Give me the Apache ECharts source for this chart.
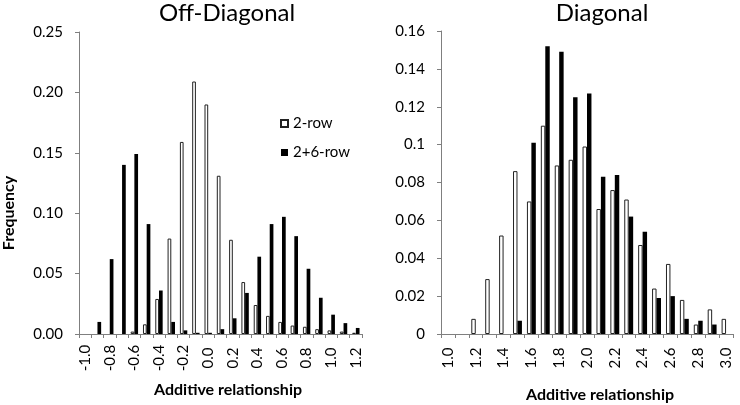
<!DOCTYPE html>
<html><head><meta charset="utf-8">
<script src="https://cdn.jsdelivr.net/npm/echarts@6.0.0/dist/echarts.min.js"></script>
<style>html,body{margin:0;padding:0;background:#fff}#c{width:740px;height:405px}</style>
</head><body><div id="c"></div>
<script>
// ---- Data ----
const offCats = ['-1.0','-0.9','-0.8','-0.7','-0.6','-0.5','-0.4','-0.3','-0.2','-0.1','0.0','0.1','0.2','0.3','0.4','0.5','0.6','0.7','0.8','0.9','1.0','1.1','1.2'];
const off2row  = [0,0,0,0,0.002,0.008,0.029,0.079,0.159,0.209,0.190,0.131,0.078,0.043,0.024,0.015,0.010,0.007,0.006,0.004,0.003,0.002,0.001];
const off26row = [0,0.010,0.062,0.140,0.149,0.091,0.036,0.010,0.003,0.001,0.001,0.004,0.013,0.034,0.064,0.091,0.097,0.081,0.054,0.030,0.016,0.009,0.005];

const diagCats = ['1.0','1.1','1.2','1.3','1.4','1.5','1.6','1.7','1.8','1.9','2.0','2.1','2.2','2.3','2.4','2.5','2.6','2.7','2.8','2.9','3.0'];
const diag2row  = [0,0,0.008,0.029,0.052,0.086,0.070,0.110,0.089,0.092,0.099,0.066,0.076,0.071,0.047,0.024,0.037,0.018,0.005,0.013,0.008];
const diag26row = [0,0,0,0,0,0.007,0.101,0.152,0.149,0.125,0.127,0.083,0.084,0.062,0.054,0.019,0.020,0.008,0.007,0.005,0];

const seriesNames = ['2-row','2+6-row'];
const titles = ['Off-Diagonal','Diagonal'];
const xTitle = 'Additive relationship';
const yTitle = 'Frequency';

// ---- Chart ----
const FONT = 'Lato, "Open Sans", sans-serif';
const chart = echarts.init(document.getElementById('c'), null, {renderer:'canvas'});
const axisLine = {show:true, lineStyle:{color:'#7f7f7f', width:1}};
function xAxisCfg(idx, cats){
  return {
    type:'category', gridIndex:idx, data:cats, boundaryGap:true,
    axisLine:axisLine,
    axisTick:{show:true, interval:0, length:4, lineStyle:{color:'#7f7f7f'}},
    axisLabel:{interval:1, rotate:90, align:'center', verticalAlign:'middle', margin:24,
      fontSize:15, color:'#000', fontFamily:FONT},
    splitLine:{show:false}
  };
}
function yAxisCfg(idx, max, interval, fmt){
  return {
    type:'value', gridIndex:idx, min:0, max:max, interval:interval,
    axisLine:axisLine,
    axisTick:{show:true, length:4, lineStyle:{color:'#7f7f7f'}},
    axisLabel:{fontSize:15, color:'#000', margin:16, fontFamily:FONT, formatter:fmt},
    splitLine:{show:false}
  };
}
const whiteStyle = {color:'#ffffff', borderColor:'#222', borderWidth:1};
const blackStyle = {color:'#000000'};
function bar(name, data, idx, style, gap){
  return {type:'bar', name:name, data:data.map(v => v === 0 ? null : v), xAxisIndex:idx, yAxisIndex:idx,
    itemStyle:style, barGap:'0%', barCategoryGap:gap, emphasis:{disabled:true}};
}
const option = {
  animation:false,
  textStyle:{fontFamily:FONT},
  legend:{orient:'vertical', left:275, top:111, itemWidth:7, itemHeight:7, itemGap:14,
    icon:'rect', data:seriesNames, textStyle:{fontSize:15, color:'#000', fontFamily:FONT}},
  grid:[
    {left:79, top:32, width:283, height:302},
    {left:441, top:31, width:292, height:303}
  ],
  xAxis:[xAxisCfg(0, offCats), xAxisCfg(1, diagCats)],
  yAxis:[
    yAxisCfg(0, 0.25, 0.05, v => v.toFixed(2)),
    yAxisCfg(1, 0.16, 0.02, v => String(+v.toFixed(2)))
  ],
  series:[
    bar(seriesNames[0], off2row, 0, whiteStyle, '40%'),
    bar(seriesNames[1], off26row, 0, blackStyle, '40%'),
    bar(seriesNames[0], diag2row, 1, whiteStyle, '36%'),
    bar(seriesNames[1], diag26row, 1, blackStyle, '36%')
  ],
  graphic:[
    {type:'text', x:227, y:13, style:{text:titles[0], font:'24px '+FONT, fill:'#000', align:'center', verticalAlign:'middle'}},
    {type:'text', x:602, y:13, style:{text:titles[1], font:'24px '+FONT, fill:'#000', align:'center', verticalAlign:'middle'}},
    {type:'text', x:228, y:390, style:{text:xTitle, font:'bold 16px '+FONT, fill:'#000', align:'center', verticalAlign:'middle'}},
    {type:'text', x:600, y:395, style:{text:xTitle, font:'bold 16px '+FONT, fill:'#000', align:'center', verticalAlign:'middle'}},
    {type:'text', x:9, y:213, rotation:Math.PI/2, style:{text:yTitle, font:'bold 16px '+FONT, fill:'#000', align:'center', verticalAlign:'middle'}}
  ]
};
chart.setOption(option);
</script></body></html>
